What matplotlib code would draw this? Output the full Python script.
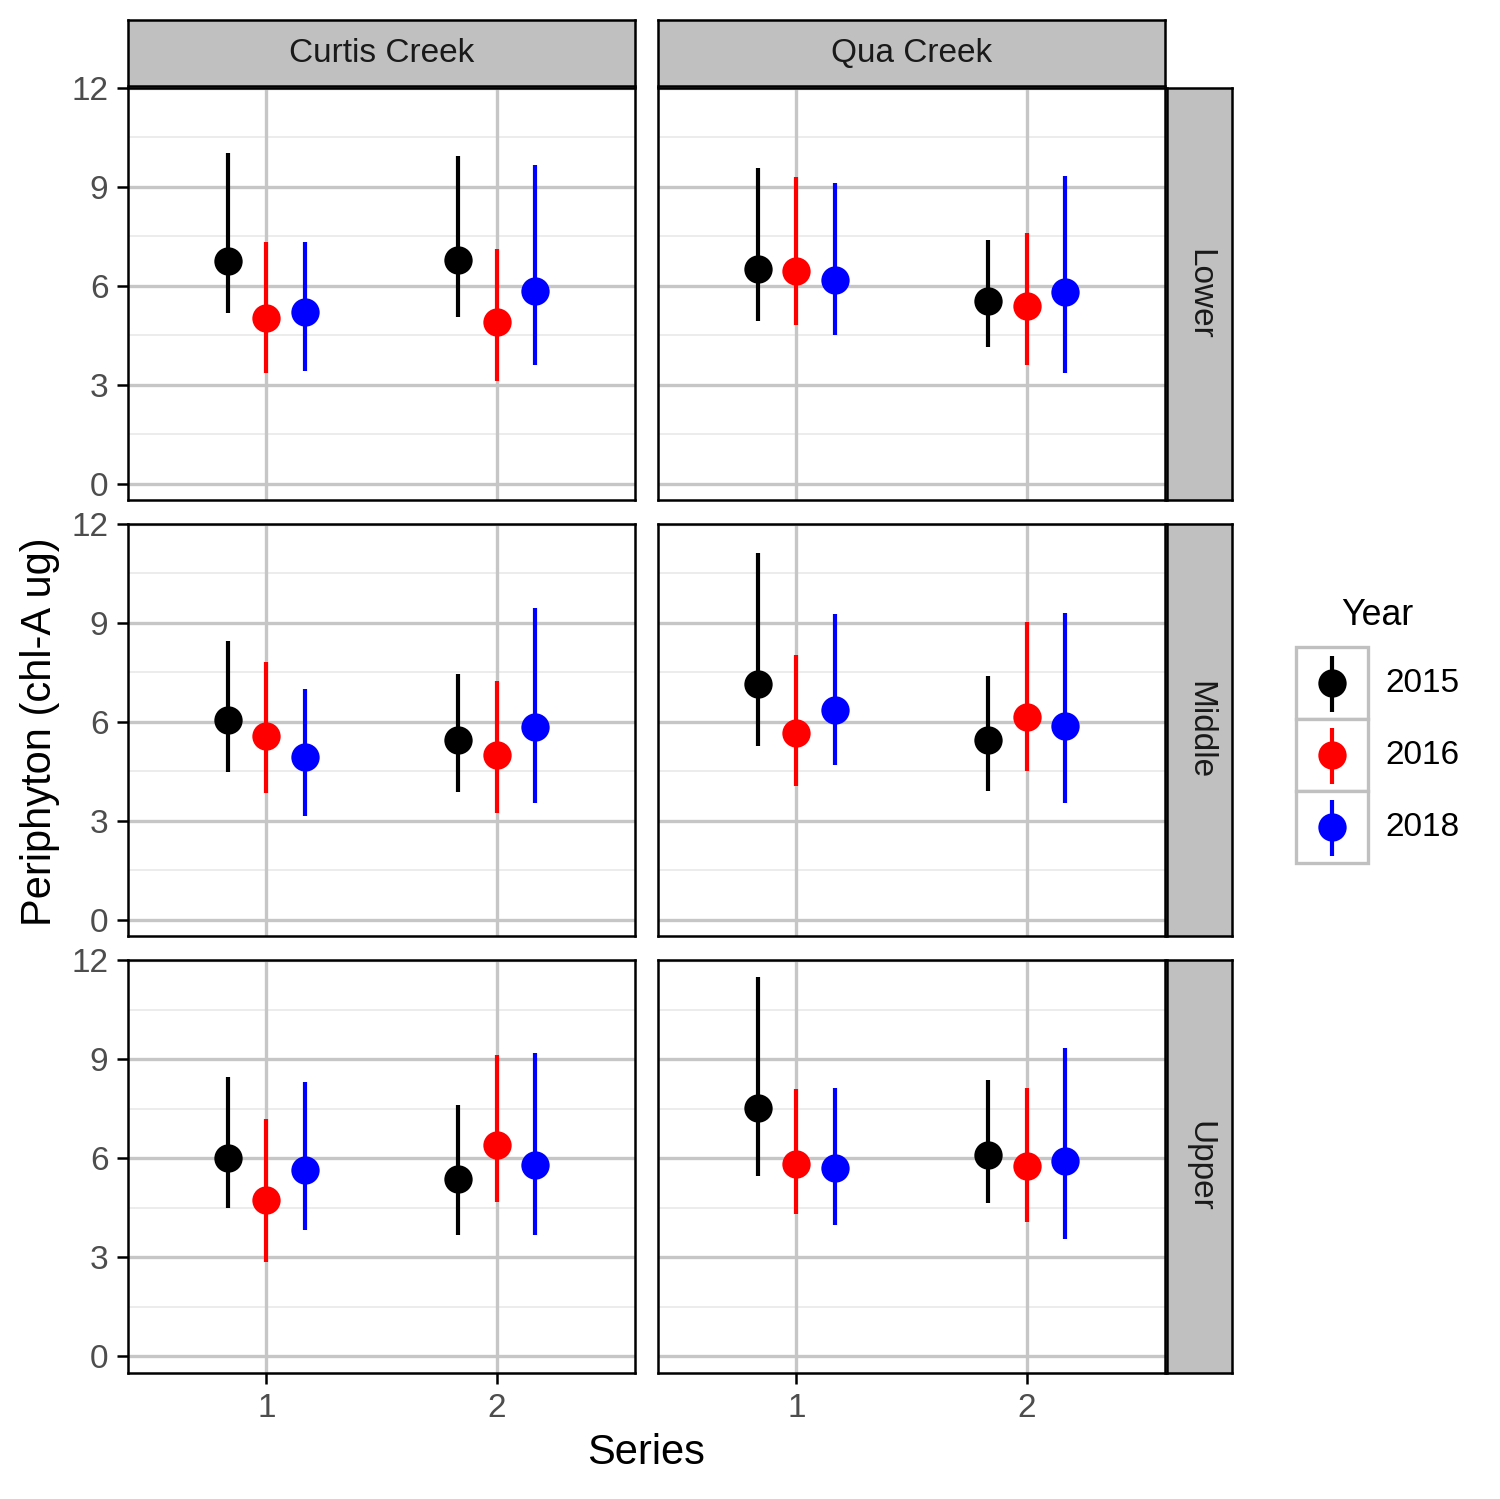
#!/usr/bin/env python3
"""Periphyton chl-A by site, reach, series and year (facet grid)."""
import numpy as np
import matplotlib
matplotlib.use("Agg")
import matplotlib.pyplot as plt

plt.rcParams["font.family"] = ["Liberation Sans", "DejaVu Sans"]

W, H = 1500, 1499
DPI = 300

sites = ["Curtis Creek", "Qua Creek"]
reaches = ["Lower", "Middle", "Upper"]
series = [1, 2]
years = ["2015", "2016", "2018"]
year_colors = ["black", "red", "blue"]

# [reach][site][series][year]
means = [
    [[[6.76, 5.03, 5.21], [6.79, 4.91, 5.85]],
     [[6.52, 6.45, 6.18], [5.55, 5.39, 5.82]]],
    [[[6.06, 5.58, 4.94], [5.45, 5.00, 5.85]],
     [[7.15, 5.67, 6.36], [5.45, 6.15, 5.88]]],
    [[[6.00, 4.73, 5.64], [5.36, 6.39, 5.79]],
     [[7.52, 5.82, 5.70], [6.09, 5.76, 5.91]]],
]
lows = [
    [[[5.18, 3.36, 3.42], [5.06, 3.12, 3.61]],
     [[4.94, 4.82, 4.52], [4.15, 3.61, 3.36]]],
    [[[4.48, 3.85, 3.15], [3.88, 3.24, 3.55]],
     [[5.27, 4.06, 4.70], [3.91, 4.52, 3.55]]],
    [[[4.48, 2.85, 3.82], [3.67, 4.67, 3.67]],
     [[5.45, 4.30, 3.97], [4.64, 4.06, 3.55]]],
]
highs = [
    [[[10.03, 7.33, 7.33], [9.94, 7.12, 9.67]],
     [[9.58, 9.30, 9.12], [7.39, 7.61, 9.33]]],
    [[[8.45, 7.82, 7.00], [7.45, 7.24, 9.45]],
     [[11.12, 8.03, 9.27], [7.39, 9.03, 9.30]]],
    [[[8.45, 7.18, 8.30], [7.61, 9.12, 9.18]],
     [[11.48, 8.09, 8.12], [8.36, 8.12, 9.33]]],
]

dodge = np.array([-1, 0, 1]) / 6.0

STRIP_FILL = "#C0C0C0"
MAJOR = "#C6C6C6"
MINOR = "#EBEBEB"


def px_axes(fig, x0, y0, x1, y1):
    return fig.add_axes([x0 / W, 1 - y1 / H, (x1 - x0) / W, (y1 - y0) / H])


fig = plt.figure(figsize=(W / DPI, H / DPI), dpi=DPI)

col_x = [(128, 635), (658, 1165)]
row_y = [(88, 500), (524, 936), (960, 1373)]

for r, reach in enumerate(reaches):
    for c, site in enumerate(sites):
        x0, x1 = col_x[c]
        y0, y1 = row_y[r]
        ax = px_axes(fig, x0, y0, x1, y1)
        ax.set_xlim(0.4, 2.6)
        ax.set_ylim(-0.5, 12)
        for yv in [1.5, 4.5, 7.5, 10.5]:
            ax.axhline(yv, color=MINOR, lw=0.45, zorder=0)
        for yv in [0, 3, 6, 9, 12]:
            ax.axhline(yv, color=MAJOR, lw=0.8, zorder=0)
        for xv in series:
            ax.axvline(xv, color=MAJOR, lw=0.8, zorder=0)
        for s_i, s in enumerate(series):
            for k in range(len(years)):
                xp = s + dodge[k]
                ax.vlines(xp, lows[r][c][s_i][k], highs[r][c][s_i][k],
                          color=year_colors[k], lw=1.0, zorder=2)
                ax.plot(xp, means[r][c][s_i][k], "o", color=year_colors[k],
                        ms=6.8, mec="none", zorder=3)
        ax.set_yticks([0, 3, 6, 9, 12])
        ax.set_xticks(series)
        ax.tick_params(length=2.7, width=0.6, color="black",
                       labelsize=8, labelcolor="#4D4D4D", pad=2)
        if c == 0:
            ax.set_yticklabels(["0", "3", "6", "9", "12"])
        else:
            ax.tick_params(axis="y", left=False, labelleft=False)
        if r == len(reaches) - 1:
            ax.set_xticklabels([str(s) for s in series])
        else:
            ax.tick_params(axis="x", bottom=False, labelbottom=False)
        for sp in ax.spines.values():
            sp.set_color("black")
            sp.set_linewidth(0.6)

        # strips
        if r == 0:
            sa = px_axes(fig, x0, 20, x1, 86)
            sa.set_facecolor(STRIP_FILL)
            sa.set_xticks([]); sa.set_yticks([])
            for sp in sa.spines.values():
                sp.set_linewidth(0.6)
            sa.text(0.5, 0.5, site, ha="center", va="center", fontsize=8,
                    color="#1A1A1A", transform=sa.transAxes)
        if c == len(sites) - 1:
            sa = px_axes(fig, 1167, y0, 1232, y1)
            sa.set_facecolor(STRIP_FILL)
            sa.set_xticks([]); sa.set_yticks([])
            for sp in sa.spines.values():
                sp.set_linewidth(0.6)
            sa.text(0.5, 0.5, reach, ha="center", va="center", fontsize=8,
                    color="#1A1A1A", rotation=270, transform=sa.transAxes)

fig.text(646 / W, 1 - 1453 / H, "Series", ha="center", va="center", fontsize=10)
fig.text(40 / W, 1 - 732 / H, "Periphyton (chl-A ug)", ha="center", va="center",
         fontsize=10, rotation=90)

# legend
lg = px_axes(fig, 1280, 590, 1480, 880)
lg.set_xlim(1280, 1480)
lg.set_ylim(880, 590)
lg.axis("off")
lg.text(1377, 615, "Year", ha="center", va="center", fontsize=8.6)
key_top = 647
key_h = 72
for k, yr in enumerate(years):
    ky0 = key_top + k * key_h
    lg.add_patch(plt.Rectangle((1296, ky0), 72, key_h, fc="white",
                               ec=STRIP_FILL, lw=0.8))
    cy = ky0 + key_h / 2
    lg.vlines(1332, ky0 + 9, ky0 + key_h - 7, color=year_colors[k], lw=1.0)
    lg.plot(1332, cy, "o", color=year_colors[k], ms=6.8, mec="none")
    lg.text(1385, cy, yr, ha="left", va="center", fontsize=8, color="black")

fig.savefig("out.png", dpi=DPI)
